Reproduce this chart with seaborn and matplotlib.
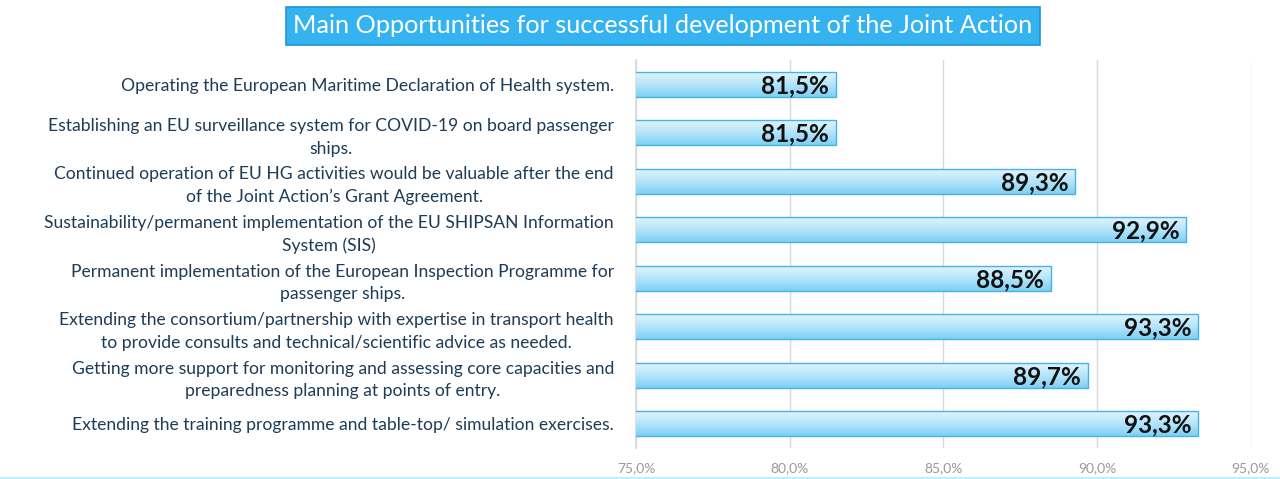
import numpy as np
import pandas as pd
import matplotlib.pyplot as plt
import seaborn as sns

# === Data ===
categories = [
    "Operating the European Maritime Declaration of Health system.",
    "Establishing an EU surveillance system for COVID-19 on board passenger\nships.",
    "Continued operation of EU HG activities would be valuable after the end\nof the Joint Action\u2019s Grant Agreement.",
    "Sustainability/permanent implementation of the EU SHIPSAN Information\nSystem (SIS)",
    "Permanent implementation of the European Inspection Programme for\npassenger ships.",
    "Extending the consortium/partnership with expertise in transport health\nto provide consults and technical/scientific advice as needed.",
    "Getting more support for monitoring and assessing core capacities and\npreparedness planning at points of entry.",
    "Extending the training programme and table-top/ simulation exercises.",
]
values = [81.5, 81.5, 89.3, 92.9, 88.5, 93.3, 89.7, 93.3]
x_ticks = [75, 80, 85, 90, 95]

df = pd.DataFrame({"category": categories, "value": values})

# === Style ===
sns.set_theme(style="white")
plt.rcParams['font.family'] = ['Lato', 'DejaVu Sans']

fig = plt.figure(figsize=(12.8, 4.79), dpi=100)
ax = fig.add_axes([0.497, 0.065, 0.48, 0.81])

sns.barplot(data=df, x="value", y="category", orient="h", color="#8fd8f6",
            width=0.52, edgecolor="#45b3e6", linewidth=1.0, ax=ax, zorder=3)

ax.set_xlim(75, 95)
ax.set_ylim(7.5, -0.5)

# gradient fill on each bar (light top -> saturated bottom)
grad = np.linspace(0, 1, 64).reshape(-1, 1)
cmap = sns.blend_palette(["#e3f5fd", "#b6e6fa", "#7fd0f3"], as_cmap=True)
for bar in ax.patches:
    x0, y0 = bar.get_x(), bar.get_y()
    h = bar.get_height()
    x1 = x0 + bar.get_width()
    x0 = max(x0, 75)
    im = ax.imshow(grad, cmap=cmap, aspect="auto", zorder=3.5,
                   extent=[x0, x1, y0 + h, y0], origin="upper")
    im.set_clip_path(bar)
    bar.set_facecolor("none")
    bar.set_zorder(4)

# value labels inside bar end
for i, v in enumerate(values):
    ax.text(v - 0.22, i + 0.03, f"{v:.1f}%".replace(".", ","), ha="right", va="center",
            fontsize=17.5, fontweight="bold", color="#111111", zorder=5)

ax.set_xticks(x_ticks)
ax.set_xticklabels([f"{t:.1f}%".replace(".", ",") for t in x_ticks],
                   color="#999999", fontsize=10)
ax.xaxis.grid(True, color="#d9d9d9", linewidth=1.0, zorder=0)
ax.set_axisbelow(True)
ax.tick_params(axis="x", length=0, pad=10)
ax.tick_params(axis="y", length=0, pad=16)
for lbl in ax.get_yticklabels():
    lbl.set_multialignment("center")
    lbl.set_linespacing(1.5)
    lbl.set_color("#1d3c57")
    lbl.set_fontsize(12.6)
ax.set_xlabel("")
ax.set_ylabel("")
for s in ["top", "right", "bottom"]:
    ax.spines[s].set_visible(False)
ax.spines["left"].set_color("#d9d9d9")

# title in a blue box
fig.text(0.518, 0.946, "Main Opportunities for successful development of the Joint Action",
         ha="center", va="center", color="white", fontsize=18.2,
         bbox=dict(boxstyle="square,pad=0.3", facecolor="#35b3f0",
                   edgecolor="#1d96d3", linewidth=1.2))

# thin light border at the bottom
fig.add_artist(plt.Line2D([0, 1], [0.003, 0.003], color="#bfefff", linewidth=1.5,
                          transform=fig.transFigure))

plt.savefig("out.png", dpi=100)
